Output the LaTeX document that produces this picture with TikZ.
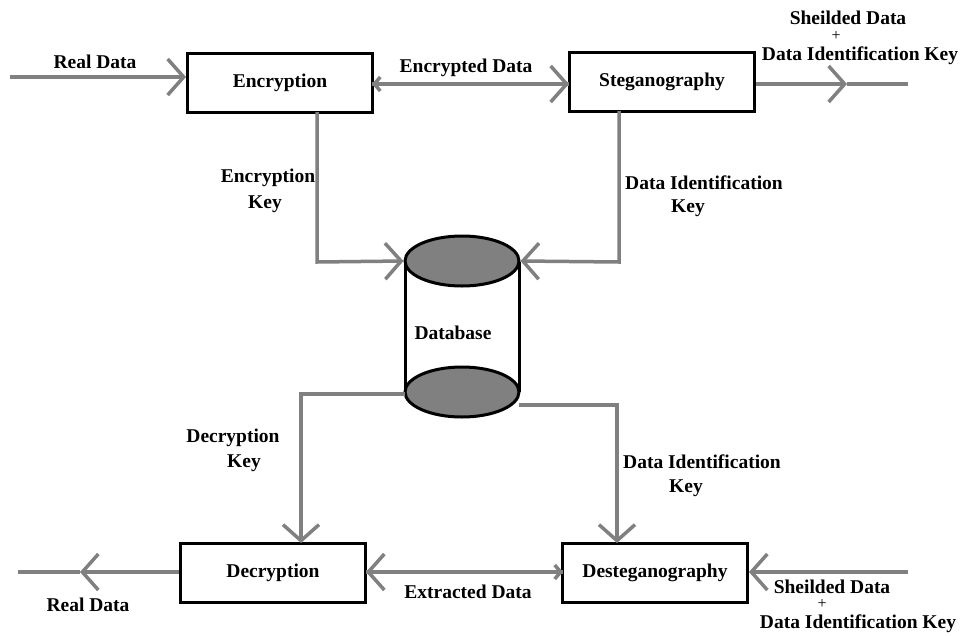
\documentclass[tikz,border=0pt]{standalone}
\usepackage{fontspec}
\setmainfont{Liberation Serif}
\usetikzlibrary{arrows.meta,shapes.geometric}
\begin{document}
\begin{tikzpicture}[x=1pt,y=-1pt,
  lbl/.style={font=\fontsize{19.5}{21}\selectfont\bfseries, inner sep=0pt},
  plus/.style={font=\fontsize{16}{16}\selectfont, inner sep=0pt},
  procbox/.style={draw=black, line width=3pt, minimum width=185pt, minimum height=59pt, font=\fontsize{19.5}{21}\selectfont\bfseries, fill=white},
  conn/.style={draw={rgb,255:red,128;green,128;blue,128}, line width=3.5pt},
  big/.style={-{Straight Barb[length=16pt,width=36pt]}},
  small/.style={-{Straight Barb[length=6pt,width=14pt]}},
  dbend/.style={ellipse, draw=black, line width=3pt, fill={rgb,255:red,128;green,128;blue,128}, minimum width=114pt, minimum height=50pt, inner sep=0pt}
]
\useasboundingbox (0,0) rectangle (963,635);

% boxes
\node[procbox] (enc) at (280,83) {Encryption};
\node[procbox] (steg) at (662,82) {Steganography};
\node[procbox] (dec) at (273,573) {Decryption};
\node[procbox] (dst) at (655,573) {Desteganography};

% database
\draw[black, line width=3pt] (405,262) -- (405,392) (519,262) -- (519,392);
\node[dbend] (dbbot) at (462,392) {};
\node[dbend] (dbtop) at (462,261) {};
\node[lbl] (dbl) at (453,333) {Database};

% coordinates
\coordinate (rin) at (10,77);
\coordinate (sout) at (908,84);
\coordinate (smid) at (847,84);
\coordinate (rout) at (18,572);
\coordinate (rmid) at (80,572);
\coordinate (dsin) at (908,572);
\coordinate (ek) at (317,262);
\coordinate (ekt) at (317,112);
\coordinate (dk) at (619,262);
\coordinate (dkt) at (619,111);
\coordinate (dck) at (301,394);
\coordinate (dck2) at (301,543);
\coordinate (dbl2) at (405,394);
\coordinate (dik) at (617,405);
\coordinate (dik2) at (617,543);
\coordinate (dbr2) at (519,405);

% connectors
\draw[conn,big] (rin) -- (rin -| enc.west);
\draw[conn,big] (372,84) -- (569,84);
\draw[conn,small] (569,84) -- (372,84);
\draw[conn,big] (steg.east |- smid) -- (smid);
\draw[conn] (smid) -- (sout);
\draw[conn,big] (ekt) -- (ek) -- (dbtop.west);
\draw[conn,big] (dkt) -- (dk) -- (dbtop.east);
\draw[conn,big] (dbl2) -- (dck) -- (dck2);
\draw[conn,big] (dbr2) -- (dik) -- (dik2);
\draw[conn,big] (563,572) -- (366,572);
\draw[conn,small] (366,572) -- (563,572);
\draw[conn,big] (dec.west |- rmid) -- (rmid);
\draw[conn] (rmid) -- (rout);
\draw[conn,big] (dsin) -- (dsin -| dst.east);

% labels
\node[lbl] at (95,62) {Real Data};
\node[lbl] at (466,68) {Encrypted Data};
\node[lbl] at (848,18) {Sheilded Data};
\node[plus] at (836,36) {+};
\node[lbl] at (860,56) {Data Identification Key};
\node[lbl] at (268,178) {Encryption};
\node[lbl] at (265,204) {Key};
\node[lbl] at (704,183) {Data Identification};
\node[lbl] at (688,208) {Key};
\node[lbl] at (233,438) {Decryption};
\node[lbl] at (244,463) {Key};
\node[lbl] at (702,462) {Data Identification};
\node[lbl] at (686,488) {Key};
\node[lbl] at (468,592) {Extracted Data};
\node[lbl] at (88,605) {Real Data};
\node[lbl] at (832,587) {Sheilded Data};
\node[plus] at (822,604) {+};
\node[lbl] at (858,624) {Data Identification Key};
\end{tikzpicture}
\end{document}
